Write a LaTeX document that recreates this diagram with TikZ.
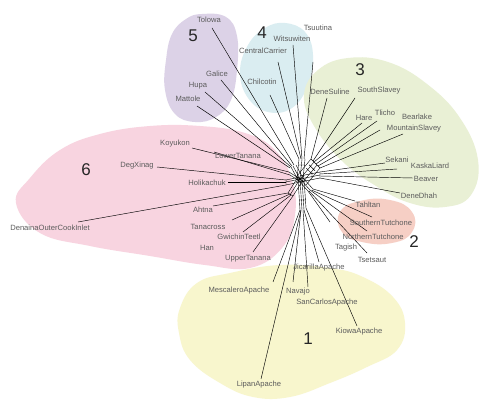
\documentclass[tikz,border=0pt]{standalone}
\usepackage{fontspec}
\newfontfamily\labfam{Liberation Sans}
\usetikzlibrary{calc}
\definecolor{labgray}{HTML}{5C5C5C}
\definecolor{cfive}{HTML}{DCD2E7}
\definecolor{cfour}{HTML}{DAEDF1}
\definecolor{cthree}{HTML}{E9F0D5}
\definecolor{csix}{HTML}{F8D4E0}
\definecolor{ctwo}{HTML}{F6CFC5}
\definecolor{cone}{HTML}{F8F6CD}
\begin{document}
\begin{tikzpicture}[x=1pt,y=-1pt,
  lab/.style={font=\labfam\fontsize{7.6}{8}\selectfont,text=labgray,inner sep=0pt},
  num/.style={font=\labfam\fontsize{17}{17}\selectfont,text=black!85,inner sep=0pt},
  edge/.style={line width=0.45pt,draw=black},
  mesh/.style={line width=0.4pt,draw=black}]
\useasboundingbox (0,0) rectangle (480,409);
\fill[white] (0,0) rectangle (480,409);
% ---------- blobs ----------
\fill[cfive] plot[smooth cycle,tension=0.7] coordinates {(202,14) (226,17) (237,36) (237,70) (231,100) (216,117) (195,122) (175,114) (165,90) (166,60) (172,34) (186,19)};
\fill[cfour] plot[smooth cycle,tension=0.7] coordinates {(285,23) (305,32) (313,55) (308,85) (292,108) (268,112) (248,98) (240,72) (248,45) (265,28)};
\fill[cthree] plot[smooth cycle,tension=0.7] coordinates {(318,70) (348,58) (388,62) (427,84) (460,118) (478,160) (471,195) (445,207) (410,203) (376,186) (342,161) (314,126) (304,95)};
\fill[csix] plot[smooth cycle,tension=0.7] coordinates {(16,203) (30,178) (60,150) (100,134) (150,126) (200,126) (245,133) (275,150) (292,180) (295,215) (282,248) (250,268) (205,265) (150,256) (90,246) (40,233)};
\fill[ctwo] plot[smooth cycle,tension=0.8] coordinates {(340,212) (360,201) (390,200) (412,212) (412,232) (392,243) (362,242) (342,232)};
\fill[cone] plot[smooth cycle,tension=0.7] coordinates {(180,308) (197,283) (230,273) (280,265) (330,268) (363,277) (393,297) (405,323) (397,350) (367,367) (330,383) (290,397) (253,397) (220,383) (190,360) (179,333)};
% ---------- numbers ----------
\node[num] (n5) at (193,36) {5};
\node[num] (n4) at (262,33) {4};
\node[num] (n3) at (360,70) {3};
\node[num] (n6) at (86,170) {6};
\node[num] (n2) at (414,242) {2};
\node[num] (n1) at (308,339) {1};
% ---------- hubs ----------
\coordinate (core) at (300,179);
\coordinate (hNW) at (293,166);
\coordinate (hN) at (302,159);
\coordinate (hNE) at (314,162);
\coordinate (hE) at (320,175);
\coordinate (hSE) at (310,190);
\coordinate (hS) at (302,210);
\coordinate (hW) at (286,182);
\coordinate (hW2) at (289,172);
\coordinate (hSW) at (290,195);
% ---------- leaf ends ----------
\coordinate (tolowa-e) at (212,28);
\coordinate (galice-e) at (221,80);
\coordinate (hupa-e) at (205,92);
\coordinate (mattole-e) at (197,106);
\coordinate (chilcotin-e) at (270,95);
\coordinate (centralcarrier-e) at (278,62);
\coordinate (witsuwiten-e) at (293,45);
\coordinate (tsuutina-e) at (313,62);
\coordinate (denesuline-e) at (327,98);
\coordinate (southslavey-e) at (355,98);
\coordinate (hare-e) at (362,123);
\coordinate (tlicho-e) at (377,121);
\coordinate (bearlake-e) at (380,130);
\coordinate (mountainslavey-e) at (403,134);
\coordinate (sekani-e) at (385,163);
\coordinate (kaskaliard-e) at (397,169);
\coordinate (beaver-e) at (413,178);
\coordinate (denedhah-e) at (400,193);
\coordinate (tahltan-e) at (355,201);
\coordinate (stutchone-e) at (372,217);
\coordinate (ntutchone-e) at (367,231);
\coordinate (tsetsaut-e) at (367,253);
\coordinate (tagish-e) at (330,222);
\coordinate (jicarilla-e) at (319,262);
\coordinate (mescalero-e) at (273,282);
\coordinate (navajo-e) at (293,282);
\coordinate (sancarlos-e) at (308,287);
\coordinate (kiowa-e) at (357,326);
\coordinate (lipan-e) at (261,379);
\coordinate (koyukon-e) at (192,148);
\coordinate (lowertanana-e) at (214,152);
\coordinate (degxinag-e) at (157,167);
\coordinate (holikachuk-e) at (228,182);
\coordinate (denaina-e) at (78,222);
\coordinate (ahtna-e) at (213,206);
\coordinate (tanacross-e) at (232,220);
\coordinate (gwichin-e) at (243,232);
\coordinate (uppertanana-e) at (253,252);
% ---------- central mesh ----------
\draw[mesh] (hNW) -- (core) ([shift={(3,-1)}]hNW) -- ([shift={(3,-1)}]core) ([shift={(-2,1)}]hNW) -- ([shift={(-2,1)}]core);
\draw[mesh] (hN) -- (core) ([shift={(3,0)}]hN) -- ([shift={(3,0)}]core) ([shift={(-3,0)}]hN) -- ([shift={(-3,0)}]core) ([shift={(-3,6)}]hN) -- ([shift={(3,6)}]hN);
\draw[mesh] (hNE) -- (core) ([shift={(3,3)}]hNE) -- ([shift={(3,3)}]core) ([shift={(-3,-3)}]hNE) -- ([shift={(-3,-3)}]core) ([shift={(6,6)}]hNE) -- ([shift={(6,6)}]core)
  ([shift={(-3,-3)}]hNE) -- ([shift={(6,6)}]hNE) ([shift={(-1.5,-1.5)}]$(hNE)!0.45!(core)$) -- ([shift={(4.5,4.5)}]$(hNE)!0.45!(core)$)
  ([shift={(-1.5,-1.5)}]$(hNE)!0.25!(core)$) -- ([shift={(4.5,4.5)}]$(hNE)!0.25!(core)$);
\draw[mesh] (hE) -- (core) ([shift={(0,3)}]hE) -- ([shift={(0,3)}]core) ([shift={(0,-3)}]hE) -- ([shift={(0,-3)}]core) ([shift={(0,-3)}]hE) -- ([shift={(0,3)}]hE)
  ([shift={(-8,-3)}]hE) -- ([shift={(-8,3)}]hE);
\draw[mesh] (hSE) -- (core) ([shift={(3,-1)}]hSE) -- ([shift={(3,-1)}]core) ([shift={(-2,1)}]hSE) -- ([shift={(-2,1)}]core);
\draw[mesh] (hS) -- (core) ([shift={(2,0)}]hS) -- ([shift={(2,0)}]core) ([shift={(-2,0)}]hS) -- ([shift={(-2,0)}]core) ([shift={(4,-2)}]hS) -- ([shift={(4,0)}]core)
  ([shift={(-2,-10)}]hS) -- ([shift={(4,-10)}]hS);
\draw[mesh] (hW) -- (core) ([shift={(0,3)}]hW) -- ([shift={(0,3)}]core) ([shift={(0,-2)}]hW) -- ([shift={(0,-2)}]core) ([shift={(0,-2)}]hW) -- ([shift={(0,3)}]hW);
\draw[mesh] (hW2) -- (core) ([shift={(1,3)}]hW2) -- ([shift={(1,3)}]core);
\draw[mesh] (hSW) -- (core) ([shift={(3,1)}]hSW) -- ([shift={(3,1)}]core) ([shift={(-2,-2)}]hSW) -- ([shift={(-2,-2)}]core)
  ([shift={(-2,-2)}]hSW) -- ([shift={(3,1)}]hSW);
\draw[mesh] ([shift={(-4,-3)}]core) -- ([shift={(4,3)}]core) ([shift={(-4,3)}]core) -- ([shift={(4,-3)}]core) ([shift={(-5,0)}]core) -- ([shift={(5,0)}]core);
% ---------- leaf edges ----------
\draw[edge] ([shift={(1,-1)}]hNW) -- (tolowa-e);
\draw[edge] ([shift={(-1,0)}]hNW) -- (galice-e);
\draw[edge] ([shift={(-2,1)}]hNW) -- (hupa-e);
\draw[edge] ([shift={(-3,2)}]hNW) -- (mattole-e);
\draw[edge] ([shift={(-3,0)}]hN) -- (chilcotin-e);
\draw[edge] ([shift={(-1,0)}]hN) -- (centralcarrier-e);
\draw[edge] (hN) -- (witsuwiten-e);
\draw[edge] ([shift={(2,0)}]hN) -- (tsuutina-e);
\draw[edge] ([shift={(-3,-3)}]hNE) -- (denesuline-e);
\draw[edge] ([shift={(-1,-1)}]hNE) -- (southslavey-e);
\draw[edge] (hNE) -- (hare-e);
\draw[edge] ([shift={(2,2)}]hNE) -- (tlicho-e);
\draw[edge] ([shift={(4,4)}]hNE) -- (bearlake-e);
\draw[edge] ([shift={(6,6)}]hNE) -- (mountainslavey-e);
\draw[edge] ([shift={(0,-3)}]hE) -- (sekani-e);
\draw[edge] ([shift={(0,-1)}]hE) -- (kaskaliard-e);
\draw[edge] ([shift={(0,1)}]hE) -- (beaver-e);
\draw[edge] ([shift={(0,3)}]hE) -- (denedhah-e);
\draw[edge] ([shift={(3,-1)}]hSE) -- (tahltan-e);
\draw[edge] ([shift={(1.5,0)}]hSE) -- (stutchone-e);
\draw[edge] (hSE) -- (ntutchone-e);
\draw[edge] ([shift={(-1,1)}]hSE) -- (tsetsaut-e);
\draw[edge] ([shift={(-2,1)}]hSE) -- (tagish-e);
\draw[edge] ([shift={(2,0)}]hS) -- (jicarilla-e);
\draw[edge] ([shift={(-2,0)}]hS) -- (mescalero-e);
\draw[edge] ([shift={(-1,0)}]hS) -- (navajo-e);
\draw[edge] ([shift={(1,0)}]hS) -- (sancarlos-e);
\draw[edge] ([shift={(4,-2)}]hS) -- (kiowa-e);
\draw[edge] ([shift={(-1,0)}]hS) -- (lipan-e);
\draw[edge] (hW2) -- (koyukon-e);
\draw[edge] ([shift={(1,3)}]hW2) -- (lowertanana-e);
\draw[edge] ([shift={(0,-2)}]hW) -- (degxinag-e);
\draw[edge] ([shift={(0,0)}]hW) -- (holikachuk-e);
\draw[edge] ([shift={(0,3)}]hW) -- (denaina-e);
\draw[edge] ([shift={(-2,-2)}]hSW) -- (ahtna-e);
\draw[edge] ([shift={(0,-1)}]hSW) -- (tanacross-e);
\draw[edge] ([shift={(1,0)}]hSW) -- (gwichin-e);
\draw[edge] ([shift={(3,1)}]hSW) -- (uppertanana-e);
% ---------- labels ----------
\node[lab] (tolowa) at (209,20) {Tolowa};
\node[lab] (galice) at (217,74) {Galice};
\node[lab] (hupa) at (198,86) {Hupa};
\node[lab] (mattole) at (188,99) {Mattole};
\node[lab] (chilcotin) at (262,82) {Chilcotin};
\node[lab] (centralcarrier) at (263,51) {CentralCarrier};
\node[lab] (witsuwiten) at (292,39) {Witsuwiten};
\node[lab] (tsuutina) at (318,28) {Tsuutina};
\node[lab] (denesuline) at (330,92) {DeneSuline};
\node[lab] (southslavey) at (379,91) {SouthSlavey};
\node[lab] (hare) at (364,118) {Hare};
\node[lab] (tlicho) at (385,113) {Tlicho};
\node[lab] (bearlake) at (417,117) {Bearlake};
\node[lab] (mountainslavey) at (414,129) {MountainSlavey};
\node[lab] (sekani) at (397,160) {Sekani};
\node[lab] (kaskaliard) at (430,166) {KaskaLiard};
\node[lab] (beaver) at (426,179) {Beaver};
\node[lab] (denedhah) at (419,196) {DeneDhah};
\node[lab] (tahltan) at (368,205) {Tahltan};
\node[lab] (stutchone) at (381,223) {SouthernTutchone};
\node[lab] (ntutchone) at (373,237) {NorthernTutchone};
\node[lab] (tagish) at (346,248) {Tagish};
\node[lab] (tsetsaut) at (372,260) {Tsetsaut};
\node[lab] (jicarilla) at (319,268) {JicarillaApache};
\node[lab] (mescalero) at (239,291) {MescaleroApache};
\node[lab] (navajo) at (298,292) {Navajo};
\node[lab] (sancarlos) at (327,303) {SanCarlosApache};
\node[lab] (kiowa) at (359,332) {KiowaApache};
\node[lab] (lipan) at (259,385) {LipanApache};
\node[lab] (koyukon) at (175,144) {Koyukon};
\node[lab] (lowertanana) at (238,156) {LowerTanana};
\node[lab] (degxinag) at (137,166) {DegXinag};
\node[lab] (holikachuk) at (207,183) {Holikachuk};
\node[lab] (denaina) at (50,228) {DenainaOuterCookInlet};
\node[lab] (ahtna) at (203,210) {Ahtna};
\node[lab] (tanacross) at (208,227) {Tanacross};
\node[lab] (gwichin) at (239,237) {GwichinTeetl};
\node[lab] (han) at (207,248) {Han};
\node[lab] (uppertanana) at (248,259) {UpperTanana};
\end{tikzpicture}
\end{document}
